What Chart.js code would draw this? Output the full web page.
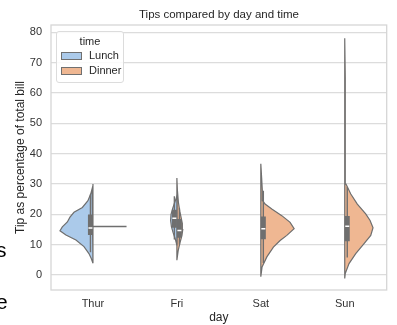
<!DOCTYPE html>
<html>
<head>
<meta charset="utf-8">
<script src="https://cdn.jsdelivr.net/npm/chart.js@4"></script>
<style>
    body { margin: 0; background: #fff; font-family: 'Liberation Sans', Arial, sans-serif; }
    #wrap { position: relative; width: 397px; height: 325px; overflow: hidden; }
    #title {
        position: absolute; left: 51px; width: 336px; top: 8px; text-align: center;
        font-size: 11.5px; color: #262626;
    }
    #legend {
        position: absolute; left: 56px; top: 31px; width: 66px; height: 50px;
        border: 1px solid #dcdcdc; border-radius: 3px; background: rgba(255,255,255,0.85);
        font-size: 11px; color: #262626;
    }
    #legend .ttl { position: absolute; left: 0; width: 66px; top: 3px; text-align: center; }
    #legend .sw { position: absolute; left: 4px; width: 19px; height: 6px; border: 1px solid #707070; }
    #legend .lab { position: absolute; left: 32px; }
    .stray { position: absolute; left: -4px; font-size: 21px; color: #000; }
</style>
</head>
<body>
<div id="wrap">
    <canvas id="tipsChart" width="397" height="325"></canvas>
    <div id="title">Tips compared by day and time</div>
    <div id="legend">
        <div class="ttl">time</div>
        <div class="sw" style="top:20px; background:#abcaea"></div><div class="lab" style="top:17px">Lunch</div>
        <div class="sw" style="top:35px; background:#efb792"></div><div class="lab" style="top:32px">Dinner</div>
    </div>
    <div class="stray" style="top:238px">s</div>
    <div class="stray" style="top:290px">e</div>
</div>
<script>
// Datos
const days = ['Thur', 'Fri', 'Sat', 'Sun'];
const yTickValues = [0, 10, 20, 30, 40, 50, 60, 70, 80];

// contorno de cada media-violin: % de propina y medio ancho (en unidades de categoria)
const thurLunchPct   = [3.9, 5.5, 7.1, 9.4, 11.6, 13.2, 14.6, 15.9, 17.5, 19.1, 20.7, 22.3, 24.5, 26.7, 28.5, 30];
const thurLunchWidth = [0, 0.02, 0.048, 0.107, 0.203, 0.322, 0.393, 0.365, 0.305, 0.274, 0.226, 0.126, 0.06, 0.027, 0.01, 0];
const thurDinnerValue = 16;

const friLunchPct   = [9.8, 12, 14, 16, 18, 20, 22, 24, 26];
const friLunchWidth = [0, 0.02, 0.045, 0.065, 0.075, 0.07, 0.05, 0.025, 0];
const friDinnerPct   = [4.9, 8, 11, 13, 15, 17, 19, 21, 24, 28, 32];
const friDinnerWidth = [0, 0.015, 0.04, 0.06, 0.07, 0.065, 0.05, 0.035, 0.018, 0.006, 0];

const satDinnerPct   = [-0.55, 2.7, 6.0, 9.2, 11.4, 13.1, 15.3, 17.4, 19.6, 21.8, 23.4, 24.5, 27.8, 32, 36.7];
const satDinnerWidth = [0, 0.015, 0.072, 0.15, 0.23, 0.31, 0.397, 0.349, 0.25, 0.131, 0.051, 0.024, 0.018, 0.01, 0];

const sunDinnerPct   = [-1.1, 0.5, 3.8, 7.1, 10.4, 13.1, 15.6, 18, 20.2, 23.4, 26.7, 30, 35, 50, 65, 78];
const sunDinnerWidth = [0, 0.006, 0.051, 0.131, 0.23, 0.31, 0.337, 0.302, 0.25, 0.15, 0.072, 0.015, 0.007, 0.006, 0.006, 0];

// cajas: [bigote inf, Q1, mediana, Q3, bigote sup]
const thurLunchBox  = [7.5, 13.2, 15.5, 20, 26.6];
const friLunchBox   = [11.7, 15.6, 18.7, 21.5, 26];
const friDinnerBox  = [10, 12.3, 14.7, 18.5, 22];
const satDinnerBox  = [4, 11.8, 15.3, 19.3, 27.8];
const sunDinnerBox  = [5.8, 11.2, 16.1, 19.5, 29];

const lunchColor = '#abcaea';
const dinnerColor = '#efb792';
const edgeGray = '#6f6f6f';

// construir un poligono de media violin (side -1 = izquierda, 1 = derecha)
function halfViolin(dayIdx, side, pcts, widths, color) {
    const pts = pcts.map((p, i) => ({ x: dayIdx + side * widths[i], y: p }));
    pts.push({ x: dayIdx, y: pcts[0] });
    return {
        data: pts,
        showLine: true,
        fill: 'shape',
        backgroundColor: color,
        borderColor: edgeGray,
        borderWidth: 1.2,
        pointRadius: 0,
        tension: 0,
        order: 3
    };
}

function boxParts(dayIdx, side, box) {
    const x = dayIdx + side * 0.03;
    return [
        { data: [{ x: x, y: box[0] }, { x: x, y: box[4] }], showLine: true, borderColor: edgeGray,
          borderWidth: 1.4, pointRadius: 0, order: 2 },
        { data: [{ x: x, y: box[1] }, { x: x, y: box[3] }], showLine: true, borderColor: edgeGray,
          borderWidth: 5, borderCapStyle: 'butt', pointRadius: 0, order: 1 },
        { data: [{ x: x, y: box[2] }], showLine: false, pointStyle: 'line', pointRadius: 2,
          pointBorderWidth: 1.5, pointBorderColor: '#ffffff', pointBackgroundColor: '#ffffff', order: 0 }
    ];
}

const datasets = [
    halfViolin(0, -1, thurLunchPct, thurLunchWidth, lunchColor),
    { data: [{ x: 0, y: thurDinnerValue }, { x: 0.4, y: thurDinnerValue }], showLine: true,
      borderColor: edgeGray, borderWidth: 1.4, pointRadius: 0, order: 3 },
    halfViolin(1, -1, friLunchPct, friLunchWidth, lunchColor),
    halfViolin(1, 1, friDinnerPct, friDinnerWidth, dinnerColor),
    halfViolin(2, 1, satDinnerPct, satDinnerWidth, dinnerColor),
    halfViolin(3, 1, sunDinnerPct, sunDinnerWidth, dinnerColor),
    ...boxParts(0, -1, thurLunchBox),
    ...boxParts(1, -1, friLunchBox),
    ...boxParts(1, 1, friDinnerBox),
    ...boxParts(2, 1, satDinnerBox),
    ...boxParts(3, 1, sunDinnerBox)
];

// marco gris alrededor del area del grafico
const framePlugin = {
    id: 'frame',
    beforeDatasetsDraw(chart) {
        const a = chart.chartArea, ctx = chart.ctx;
        ctx.save();
        ctx.strokeStyle = '#d6d6d6';
        ctx.lineWidth = 1.3;
        ctx.strokeRect(a.left, a.top, a.right - a.left, a.bottom - a.top);
        ctx.restore();
    }
};

const fontFamily = "'Liberation Sans', Arial, sans-serif";

new Chart(document.getElementById('tipsChart').getContext('2d'), {
    type: 'scatter',
    data: { datasets: datasets },
    plugins: [framePlugin],
    options: {
        responsive: false,
        animation: false,
        layout: { padding: { left: 0, right: 10.3, top: 25, bottom: 0 } },
        plugins: {
            legend: { display: false },
            tooltip: { enabled: false },
            title: { display: false }
        },
        scales: {
            x: {
                type: 'linear',
                min: -0.5,
                max: 3.5,
                afterBuildTicks: s => { s.ticks = days.map((d, i) => ({ value: i })); },
                afterFit: s => { s.height = 35; },
                ticks: {
                    callback: v => days[v],
                    color: '#333',
                    padding: 7,
                    font: { family: fontFamily, size: 11 }
                },
                grid: { display: false, drawTicks: false },
                border: { display: false },
                title: {
                    display: true,
                    text: 'day',
                    color: '#262626',
                    padding: { top: 0, bottom: 0 },
                    font: { family: fontFamily, size: 12 }
                }
            },
            y: {
                min: -4.9,
                max: 82.4,
                afterBuildTicks: s => { s.ticks = yTickValues.map(v => ({ value: v })); },
                afterFit: s => { s.width = 51; },
                ticks: {
                    color: '#333',
                    padding: 9,
                    font: { family: fontFamily, size: 11 }
                },
                grid: { color: '#dcdcdc', lineWidth: 1.3, drawTicks: false },
                border: { display: false },
                title: {
                    display: true,
                    text: 'Tip as percentage of total bill',
                    color: '#262626',
                    padding: { top: 13.5, bottom: 0 },
                    font: { family: fontFamily, size: 12 }
                }
            }
        }
    }
});
</script>
</body>
</html>
